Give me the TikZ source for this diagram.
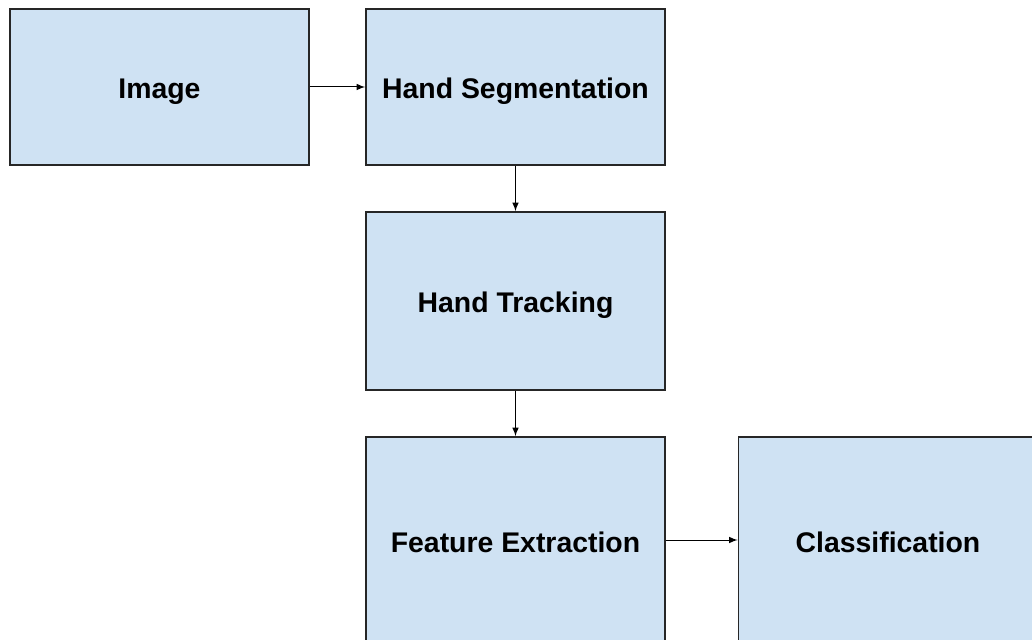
\documentclass[tikz,border=0pt]{standalone}
\usepackage{fontspec}
\setmainfont{Liberation Sans}
\usetikzlibrary{arrows,positioning}
\definecolor{boxblue}{HTML}{CFE2F3}

\begin{document}
\begin{tikzpicture}[x=0.5pt, y=-0.5pt, >=latex, thin,
  step node/.style={rectangle, draw=black!85, line width=0.8pt, fill=boxblue, minimum width=149.5pt, inner sep=0pt, text height=12pt, text depth=0pt, font=\fontsize{14.2}{17}\selectfont\bfseries}]
\useasboundingbox (0,0) rectangle (1032,640);
\clip (0,0) rectangle (1032,640);
\begin{scope}
\node[step node, minimum height=78pt] (img) at (159.5,87) {Image};
\node[step node, minimum height=78pt] (seg) at (515.5,87) {Hand Segmentation};
\node[step node, minimum height=89pt] (track) at (515.5,301) {Hand Tracking};
\node[step node, minimum height=103pt] (feat) at (515.5,540) {Feature Extraction};
\node[step node, minimum height=103pt] (cls) at (888,540) {Classification};
\end{scope}
\begin{scope}[line width=0.5pt]
\draw[->] (img) -- (seg);
\draw[->] (seg) -- (track);
\draw[->] (track) -- (feat);
\draw[->] (feat) -- (cls);
\end{scope}
\end{tikzpicture}
\end{document}
